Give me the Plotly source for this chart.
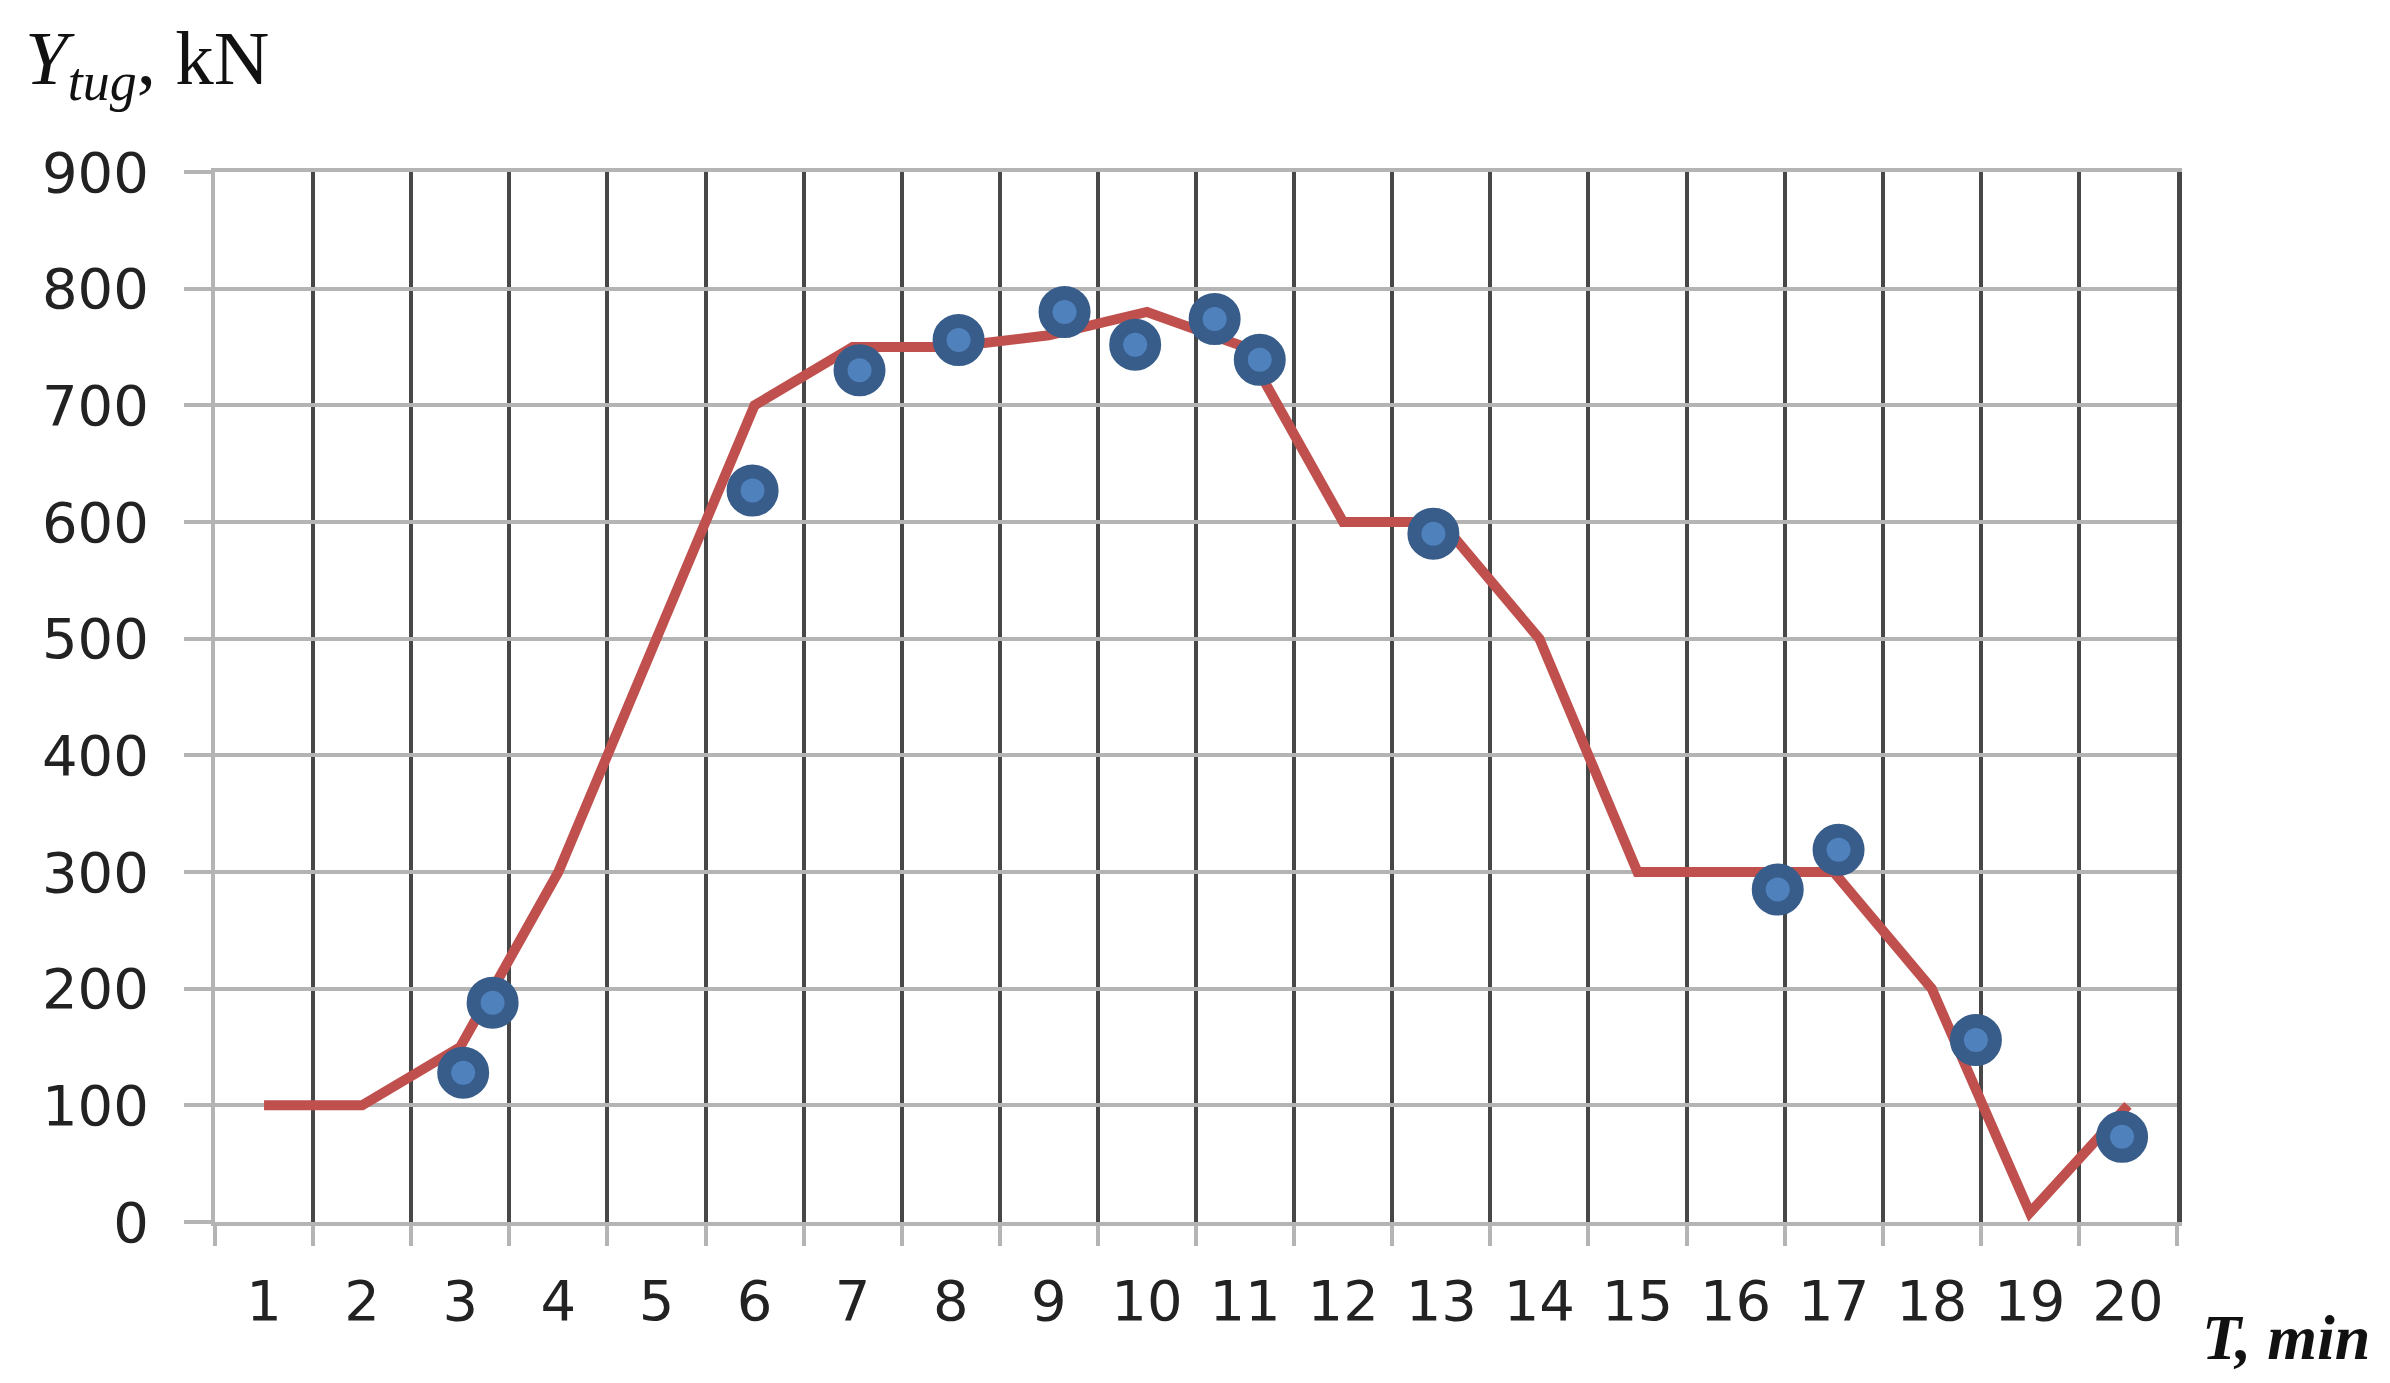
import plotly.graph_objects as go

# Categories (minutes)
categories = list(range(1, 21))
tick_labels = [str(c) for c in categories]

# Red fitted line: value at each minute
line_values = [100, 100, 150, 300, 500, 700, 750, 750, 760, 780,
               750, 600, 600, 500, 300, 300, 300, 200, 8, 100]

# Blue measured points
point_t = [3.03, 3.33, 5.98, 7.07, 8.08, 9.16, 9.88, 10.69, 11.15,
           12.92, 16.43, 17.05, 18.45, 19.94]
point_v = [128, 188, 627, 730, 756, 780, 752, 774, 739,
           590, 285, 319, 156, 73]

fig = go.Figure()
fig.add_trace(go.Scatter(
    x=categories, y=line_values, mode="lines",
    line=dict(color="#C0504D", width=10), showlegend=False, hoverinfo="skip"))
fig.add_trace(go.Scatter(
    x=point_t, y=point_v, mode="markers",
    marker=dict(size=38, color="#4F81BD", line=dict(color="#385D8A", width=14)),
    showlegend=False))
# invisible helper trace on the right axis so it is drawn
fig.add_trace(go.Scatter(x=[None], y=[None], yaxis="y2", showlegend=False, hoverinfo="skip"))

fig.update_layout(
    template="none",
    width=2382, height=1375,
    margin=dict(l=207, r=213, t=164, b=161, autoexpand=False),
    paper_bgcolor="white", plot_bgcolor="white",
    font=dict(family="DejaVu Sans", size=56, color="#222222"),
    xaxis=dict(
        range=[0.5, 20.5], tickmode="array", tickvals=categories, ticktext=tick_labels,
        showgrid=False, ticks="", zeroline=False,
        showline=True, mirror=True, linecolor="#B4B4B4", linewidth=4,
        ticklabelstandoff=27, automargin=False,
        minor=dict(tick0=0.5, dtick=1, showgrid=True, gridcolor="#474747", gridwidth=4,
                   ticks="outside", ticklen=20, tickcolor="#B4B4B4", tickwidth=4),
    ),
    yaxis=dict(
        range=[0, 900], dtick=100, showgrid=True, gridcolor="#B4B4B4", gridwidth=4,
        ticks="outside", ticklen=27, tickcolor="#B4B4B4", tickwidth=4,
        zeroline=False, showline=True, linecolor="#B4B4B4", linewidth=4,
        ticklabelstandoff=24, automargin=False,
    ),
    yaxis2=dict(
        overlaying="y", side="right", range=[0, 900], showgrid=False, showticklabels=False,
        ticks="", zeroline=False, showline=True, linecolor="#474747", linewidth=5,
        automargin=False,
    ),
    annotations=[
        dict(text="<i>Y<sub>tug</sub></i>, kN", xref="paper", yref="paper",
             x=-0.0979, y=1.103, xanchor="left", yanchor="middle", showarrow=False,
             font=dict(family="Liberation Serif", size=77, color="#111111")),
        dict(text="<b><i>T, min</i></b>", xref="paper", yref="paper",
             x=1.0556, y=-0.110, xanchor="center", yanchor="middle", showarrow=False,
             font=dict(family="Liberation Serif", size=64, color="#111111")),
    ],
)

fig.write_html("out.html")
